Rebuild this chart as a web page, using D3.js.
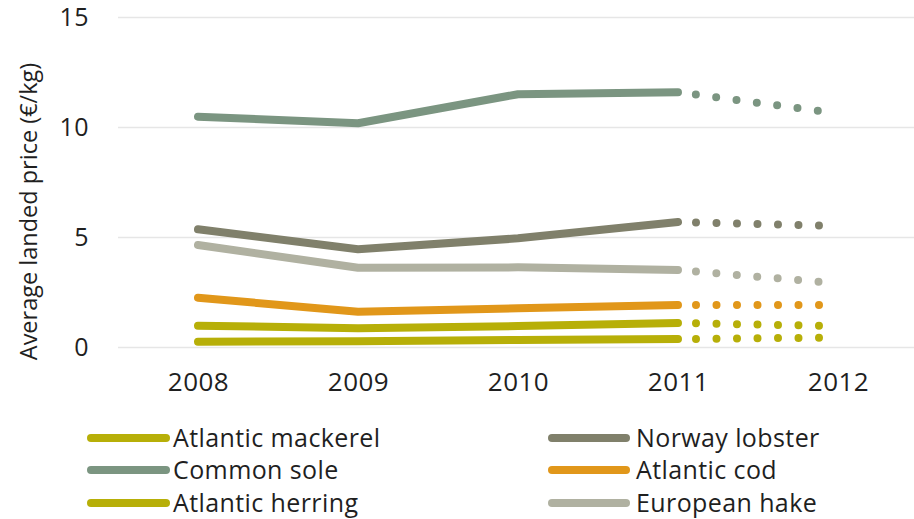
<!DOCTYPE html>
<html>
<head>
<meta charset="utf-8">
<script src="https://cdn.jsdelivr.net/npm/d3@7"></script>
<style>
  html, body { margin: 0; padding: 0; background: #ffffff; }
  svg { display: block; }
  text { font-family: "Open Sans", Lato, sans-serif; fill: #1f1f1f; }
</style>
</head>
<body>
<svg id="chart" width="914" height="519"></svg>
<script>
// ---- data ----
const years = ["2008", "2009", "2010", "2011", "2012"];
const seriesNames = ["Atlantic mackerel", "Common sole", "Atlantic herring", "Norway lobster", "Atlantic cod", "European hake"];
const mackerel = [0.97, 0.85, 0.95, 1.09, 0.95];
const sole     = [10.47, 10.17, 11.49, 11.58, 10.62];
const herring  = [0.24, 0.26, 0.32, 0.36, 0.43];
const lobster  = [5.35, 4.44, 4.94, 5.68, 5.50];
const cod      = [2.24, 1.60, 1.76, 1.91, 1.91];
const hake     = [4.64, 3.60, 3.62, 3.50, 2.89];
const yTicks = [0, 5, 10, 15];
const yTitle = "Average landed price (€/kg)";
const forecastFrom = "2011";

const seriesValues = [mackerel, sole, herring, lobster, cod, hake];
const colors = ["#b7af08", "#7b9581", "#b7af08", "#80806b", "#e1971a", "#b0b1a1"];

// ---- layout ----
const svg = d3.select("#chart");
const plotLeft = 118, plotRight = 918, plotTop = 17, plotBottom = 347;

const x = d3.scalePoint().domain(years).range([plotLeft, plotRight]).padding(0.5);
const y = d3.scaleLinear().domain([0, 15]).range([plotBottom, plotTop]);

// gridlines + y labels
const yAxis = svg.append("g")
  .attr("transform", `translate(${plotLeft},0)`)
  .call(d3.axisLeft(y).tickValues(yTicks).tickSizeInner(-(914 - plotLeft)).tickSizeOuter(0).tickPadding(29).tickFormat(d3.format("d")));
yAxis.select(".domain").remove();
yAxis.selectAll("line").attr("stroke", "#e6e6e6").attr("stroke-width", 1.5);
yAxis.selectAll("text").style("font-size", "25px").style("letter-spacing", "0.5px").attr("fill", "#1f1f1f");

// x labels
const xAxis = svg.append("g")
  .attr("transform", `translate(0,${plotBottom})`)
  .call(d3.axisBottom(x).tickSize(0).tickPadding(26));
xAxis.select(".domain").remove();
xAxis.selectAll("text").style("font-size", "26px").style("letter-spacing", "0.5px").attr("fill", "#1f1f1f");

// y title
svg.append("text")
  .attr("transform", `translate(37,${(60 + 363) / 2}) rotate(-90)`)
  .attr("text-anchor", "middle")
  .style("font-size", "23.5px")
  .text(yTitle);

// lines
const line = d3.line().x(d => x(d.year)).y(d => y(d.value));
const splitIdx = years.indexOf(forecastFrom);

seriesValues.forEach((vals, i) => {
  const pts = years.map((yr, j) => ({ year: yr, value: vals[j] }));
  svg.append("path")
    .attr("d", line(pts.slice(0, splitIdx + 1)))
    .attr("fill", "none")
    .attr("stroke", colors[i])
    .attr("stroke-width", 8)
    .attr("stroke-linecap", "round")
    .attr("stroke-linejoin", "round");
  svg.append("path")
    .attr("d", line(pts.slice(splitIdx)))
    .attr("fill", "none")
    .attr("stroke", colors[i])
    .attr("stroke-width", 8)
    .attr("stroke-linecap", "round")
    .attr("stroke-dasharray", "0 20.5")
    .attr("stroke-dashoffset", 2.5);
});

// legend
const legendRows = [438, 470, 503];
const legendCols = [{ x1: 87, x2: 170, tx: 173 }, { x1: 548, x2: 630, tx: 636 }];
seriesNames.forEach((name, i) => {
  const col = legendCols[Math.floor(i / 3)];
  const ry = legendRows[i % 3];
  const g = svg.append("g");
  g.append("line")
    .attr("x1", col.x1 + 4).attr("x2", col.x2 - 4)
    .attr("y1", ry).attr("y2", ry)
    .attr("stroke", colors[i]).attr("stroke-width", 8).attr("stroke-linecap", "round");
  g.append("text")
    .attr("x", col.tx).attr("y", ry).attr("dy", "0.36em")
    .style("font-size", "25px")
    .style("letter-spacing", "0.4px")
    .text(name);
});
</script>
</body>
</html>
